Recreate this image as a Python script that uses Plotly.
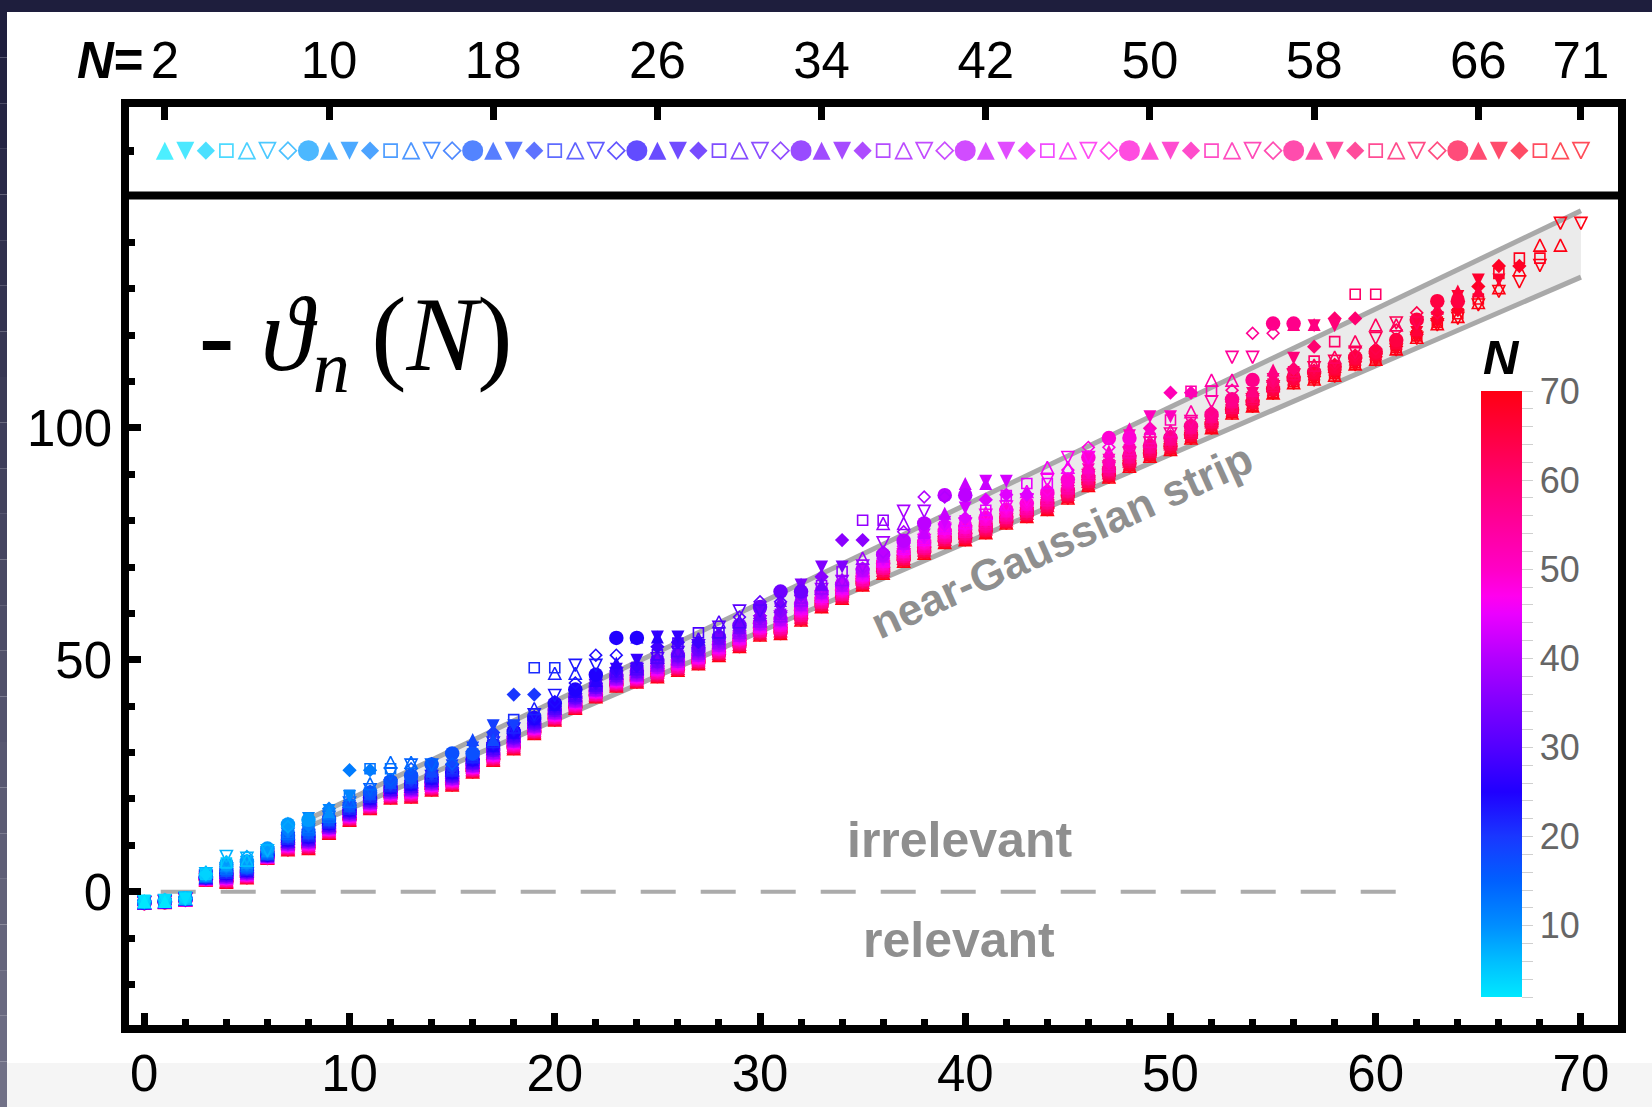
import plotly.graph_objects as go

# ---------------- data ----------------
n_index = list(range(71))                      # n = 0 .. 70
N_list = list(range(2, 72))                    # N = 2 .. 71

# lower / upper edge of the bulk column of -theta_n(N) values at each n
band_low = [-2.5, -2.3, -1.8, 2.5, 2.0, 3.0, 7.2, 9.0, 9.3, 12.6,
            15.4, 17.9, 20.2, 20.4, 21.9, 23.0, 25.8, 28.3, 30.8, 34.1,
            37.0, 39.5, 42.0, 44.3, 45.2, 46.3, 47.7, 49.1, 50.9, 52.8,
            55.3, 55.6, 58.5, 61.4, 63.2, 66.1, 68.6, 71.2, 72.9, 75.2,
            75.8, 77.3, 79.4, 80.8, 82.3, 84.8, 87.5, 89.3, 91.6, 93.8,
            95.2, 97.7, 99.9, 103.1, 104.6, 107.4, 109.6, 110.3, 111.1, 113.6,
            114.6, 116.8, 119.3, 122.2, 123.6, 126.5, 129.4, 131.5, 135.0, None, None]
band_high = [-2.0, -1.7, -1.2, 4.3, 7.6, 7.6, 9.3, 14.8, 15.8, 17.9,
             20.8, 23.3, 25.4, 26.5, 27.4, 28.5, 31.0, 34.3, 37.1, 39.5,
             42.3, 45.0, 46.8, 49.3, 49.9, 52.8, 53.6, 54.5, 57.0, 59.2,
             61.4, 62.8, 66.1, 67.9, 69.0, 71.9, 75.2, 77.6, 79.4, 81.6,
             82.7, 84.5, 85.4, 86.3, 88.7, 90.9, 93.6, 95.0, 98.3, 99.9,
             101.7, 103.5, 105.6, 108.1, 110.3, 112.5, 115.0, 117.5, 118.6, 118.6,
             119.3, 121.1, 123.3, 125.8, 128.3, 130.5, 133.3, 134.1, 135.0, None, None]

# the two highest eigenvalues of each N (at n = N-2 and n = N-1)
tail_first = [-2.1, -1.9, -1.5, 3.8, 6.5, 7.2, 9.0, 14.5, 15.5, 17.5,
              26.2, 26.5, 27.9, 27.3, 27.6, 29.8, 32.8, 35.8,
              42.5, 48.3, 47.1, 48.8, 51.0, 54.7, 54.9, 54.9, 53.8, 55.8,
              58.2, 60.5, 62.5, 64.7, 66.3, 70.0, 75.8, 80.1, 79.4, 82.0,
              85.1, 85.5, 88.0, 88.5, 85.6, 88.0, 91.5, 93.6, 95.8, 97.8,
              99.8, 102.4, 107.6, 107.9, 110.3, 115.2, 120.4, 122.5, 122.3, 122.0,
              123.6, 128.8, 122.2, 122.6, 124.8, 127.3, 129.5, 131.9, 134.9, 136.6,
              139.4, 144.1]
tail_last = [-2.1, -1.6, 3.8, 6.2, 6.8, 8.8, 14.0, 15.5, 17.2, 20.5,
             26.2, 26.5, 27.9, 27.3, 27.6, 29.8, 32.8, 35.8,
             42.5, 48.3, 47.1, 48.8, 51.0, 54.7, 54.9, 54.9, 53.8, 55.8,
             58.2, 60.5, 62.5, 64.7, 66.3, 70.0, 75.8, 80.1, 79.4, 82.0,
             85.1, 85.5, 88.0, 88.5, 85.6, 88.0, 91.5, 93.6, 95.8, 97.8,
             99.8, 102.4, 107.6, 107.9, 110.3, 115.2, 120.4, 122.5, 122.3, 122.0,
             123.6, 128.8, 122.2, 122.6, 124.8, 127.3, 129.5, 131.9, 134.9, 136.6,
             139.4, 144.1]

# near-Gaussian strip edges
strip_x = [8.0, 70.0]
strip_upper = [15.7, 146.8]
strip_lower = [14.0, 132.5]

# relevant / irrelevant divider
divider_x = [0.8, 61.0]
divider_y = [0.0, 0.0]

# axis tick values
y_ticks = [0, 50, 100]
top_tick_N = [2, 10, 18, 26, 34, 42, 50, 58, 66, 71]

# colour scale for N
cs_N = [2, 6, 10, 15, 20, 25, 30, 35, 40, 45, 47, 50, 60, 70]
cs_rgb = ['rgb(0,232,255)', 'rgb(0,190,255)', 'rgb(0,142,255)', 'rgb(0,96,255)',
          'rgb(25,55,255)', 'rgb(32,0,255)', 'rgb(82,0,255)', 'rgb(128,0,255)',
          'rgb(178,0,255)', 'rgb(235,0,255)', 'rgb(255,0,238)', 'rgb(255,0,198)',
          'rgb(255,0,112)', 'rgb(255,0,18)']
N_MIN, N_MAX = 2, 70
colorscale = [[(v - N_MIN) / (N_MAX - N_MIN), c] for v, c in zip(cs_N, cs_rgb)]

# marker cycle: (plotly symbol, angle, main size, top-row size)
symbol_cycle = [
    ('arrow-down', 180, 13, 18),        # filled up-triangle
    ('arrow-down', 0, 13, 18),          # filled down-triangle
    ('diamond', 0, 11, 14),
    ('square-open', 0, 10, 13),
    ('arrow-down-open', 180, 12, 16),   # open up-triangle
    ('arrow-down-open', 0, 12, 16),     # open down-triangle
    ('diamond-open', 0, 9, 13),
    ('circle', 0, 14.5, 21),
]

# ---------------- layout geometry (pixels) ----------------
W, H = 1652, 1107
ML, MR, MT, MB = 125, 30, 103, 78
PW, PH = W - ML - MR, H - MT - MB
SPLIT = (H - MB - 195.5) / PH          # boundary between legend row and main panel


def px_x(p):
    return (p - ML) / PW


def px_y(p):
    return (H - MB - p) / PH


fig = go.Figure()

# strip
fig.add_trace(go.Scatter(x=strip_x, y=strip_lower, mode='lines',
                         line=dict(color='#a9a9a9', width=5), hoverinfo='skip'))
fig.add_trace(go.Scatter(x=strip_x, y=strip_upper, mode='lines',
                         line=dict(color='#a9a9a9', width=5), fill='tonexty',
                         fillcolor='#ebebeb', hoverinfo='skip'))
# dashed divider
fig.add_trace(go.Scatter(x=divider_x, y=divider_y, mode='lines',
                         line=dict(color='#ababab', width=4, dash='35px,25px'),
                         hoverinfo='skip'))

# one trace per N, largest N underneath
for N in reversed(N_list):
    i = N - 2
    sym, ang, size, _ = symbol_cycle[i % 8]
    xs, ys = [], []
    for n in range(N):
        if n == N - 2:
            v = tail_first[i]
        elif n == N - 1:
            v = tail_last[i]
        else:
            lo, hi = band_low[n], band_high[n]
            nmin = max(2, n + 3)
            frac = 0.0 if nmin >= 71 else ((N - nmin) / (71 - nmin)) ** 0.35
            v = hi - (hi - lo) * frac
        xs.append(n_index[n])
        ys.append(v)
    is_arrow = sym.startswith('arrow')
    fig.add_trace(go.Scatter(
        x=xs, y=ys, mode='markers', hoverinfo='skip',
        marker=dict(symbol=sym, size=size, angle=ang,
                    standoff=size / 2 if is_arrow else 0,
                    color=[N] * len(xs), colorscale=colorscale, cmin=N_MIN, cmax=N_MAX,
                    line=dict(width=1.6 if sym.endswith('open') else 0)),
        xaxis='x', yaxis='y'))

# legend row of symbols
row_sym, row_ang, row_size, row_std, row_lw = [], [], [], [], []
for N in N_list:
    sym, ang, _, tsize = symbol_cycle[(N - 2) % 8]
    row_sym.append(sym)
    row_ang.append(ang)
    row_size.append(tsize)
    row_std.append(tsize / 2 if sym.startswith('arrow') else 0)
    row_lw.append(1.7 if sym.endswith('open') else 0)
fig.add_trace(go.Scatter(
    x=[N - 1 for N in N_list], y=[0] * len(N_list), mode='markers', hoverinfo='skip',
    marker=dict(symbol=row_sym, size=row_size, angle=row_ang, standoff=row_std,
                color=N_list, colorscale=colorscale, cmin=N_MIN, cmax=N_MAX,
                line=dict(width=row_lw)),
    xaxis='x2', yaxis='y2'))

# colour bar carrier
fig.add_trace(go.Scatter(
    x=[-100], y=[-100], mode='markers', hoverinfo='skip',
    marker=dict(color=[N_MIN], colorscale=colorscale, cmin=N_MIN, cmax=N_MAX,
                showscale=True,
                colorbar=dict(x=px_x(1481), xanchor='left', xpad=0,
                              y=px_y(694), yanchor='middle', ypad=0,
                              len=606, lenmode='pixels', thickness=41,
                              thicknessmode='pixels', outlinewidth=0,
                              tickmode='array', tickvals=list(range(2, 71, 2)),
                              ticktext=[str(v) if v % 10 == 0 else '' for v in range(2, 71, 2)],
                              ticks='outside', ticklen=11, tickwidth=1, tickcolor='#cfcfcf',
                              tickfont=dict(family='Liberation Sans', size=36, color='#666666'))),
    xaxis='x', yaxis='y'))

axis_font = dict(family='Liberation Sans', size=51, color='black')
XR = [-0.94, 72.0]

fig.update_layout(
    width=W, height=H, showlegend=False,
    margin=dict(l=ML, r=MR, t=MT, b=MB, pad=0, autoexpand=False),
    paper_bgcolor='white', plot_bgcolor='white',
    font=dict(family='Liberation Sans'),
    xaxis=dict(domain=[0, 1], range=XR, anchor='y', showline=False, showgrid=False,
               zeroline=False, automargin=False, tickmode='linear', tick0=0, dtick=10,
               ticks='inside', ticklen=16, tickwidth=7, tickcolor='black',
               tickfont=axis_font, ticklabelstandoff=10,
               minor=dict(tickmode='linear', tick0=0, dtick=2, ticks='inside',
                          ticklen=10, tickwidth=7, tickcolor='black', showgrid=False)),
    yaxis=dict(domain=[0, SPLIT], range=[-29.6, 150.1], anchor='x', showline=False,
               showgrid=False, zeroline=False, automargin=False, tickmode='array',
               tickvals=y_ticks, ticks='inside', ticklen=16, tickwidth=7,
               tickcolor='black', tickfont=axis_font, ticklabelstandoff=12,
               minor=dict(tickmode='linear', tick0=0, dtick=10, ticks='inside',
                          ticklen=10, tickwidth=7, tickcolor='black', showgrid=False)),
    xaxis2=dict(domain=[0, 1], range=XR, anchor='y2', side='top', showline=False,
                showgrid=False, zeroline=False, automargin=False, tickmode='array',
                tickvals=[N - 1 for N in top_tick_N],
                ticktext=[str(N) for N in top_tick_N],
                ticks='inside', ticklen=17, tickwidth=7, tickcolor='black',
                tickfont=axis_font, ticklabelstandoff=14),
    yaxis2=dict(domain=[SPLIT, 1], range=[-0.97, 1.03], anchor='x2', showline=False,
                showgrid=False, zeroline=False, automargin=False, tickmode='array',
                tickvals=[0], ticks='inside', ticklen=9, tickwidth=8,
                tickcolor='black', showticklabels=False),
)

# frame
shapes = [
    dict(type='rect', xref='paper', yref='paper', x0=0, x1=1, y0=0, y1=1,
         line=dict(color='black', width=8), layer='above'),
    dict(type='line', xref='paper', yref='paper', x0=0, x1=1, y0=SPLIT, y1=SPLIT,
         line=dict(color='black', width=8), layer='above'),
    # window edges around the figure
    dict(type='rect', xref='paper', yref='paper', x0=px_x(0), x1=px_x(W),
         y0=px_y(12), y1=px_y(0), line=dict(width=0), fillcolor='#1e1e3d', layer='below'),
    dict(type='rect', xref='paper', yref='paper', x0=px_x(7), x1=px_x(W),
         y0=px_y(H), y1=px_y(1063), line=dict(width=0), fillcolor='#f5f5f5', layer='below'),
]
edge_top = (30, 30, 61)
edge_bot = (112, 112, 134)
steps = 24
for k in range(steps):
    t = k / (steps - 1)
    c = tuple(round(a + (b - a) * t) for a, b in zip(edge_top, edge_bot))
    y_top = 12 + (H - 12) * k / steps
    y_bot = 12 + (H - 12) * (k + 1) / steps
    shapes.append(dict(type='rect', xref='paper', yref='paper', x0=px_x(0), x1=px_x(7),
                       y0=px_y(y_bot), y1=px_y(y_top), line=dict(width=0),
                       fillcolor='rgb(%d,%d,%d)' % c, layer='below'))
fig.update_layout(shapes=shapes)

grey = '#8f8f8f'
annotations = [
    dict(x=39.7, y=11.2, xref='x', yref='y', text='irrelevant', showarrow=False,
         xanchor='center', yanchor='middle',
         font=dict(family='Liberation Sans', size=50, color=grey, weight='bold')),
    dict(x=39.7, y=-10.4, xref='x', yref='y', text='relevant', showarrow=False,
         xanchor='center', yanchor='middle',
         font=dict(family='Liberation Sans', size=50, color=grey, weight='bold')),
    dict(x=44.7, y=75.7, xref='x', yref='y', text='near-Gaussian strip', showarrow=False,
         textangle=-24.3, xanchor='center', yanchor='middle',
         font=dict(family='Liberation Sans', size=44, color=grey, weight='bold')),
    dict(x=10.3, y=118.5, xref='x', yref='y',
         text='<b>-</b> <i>ϑ</i><sub><i>n</i></sub>\u2009(<i>N</i>)', showarrow=False,
         xanchor='center', yanchor='middle',
         font=dict(family='Liberation Serif', size=106, color='black')),
    dict(x=px_x(1501), y=px_y(357), xref='paper', yref='paper', text='<b><i>N</i></b>',
         xanchor='center', yanchor='middle',
         showarrow=False, font=dict(family='Liberation Sans', size=49, color='black')),
    dict(x=px_x(146), y=px_y(60), xref='paper', yref='paper', xanchor='right',
         yanchor='middle', text='<b><i>N</i>=</b>', showarrow=False,
         font=dict(family='Liberation Sans', size=51, color='black')),
]
fig.update_layout(annotations=annotations)

fig.write_html('out.html')
